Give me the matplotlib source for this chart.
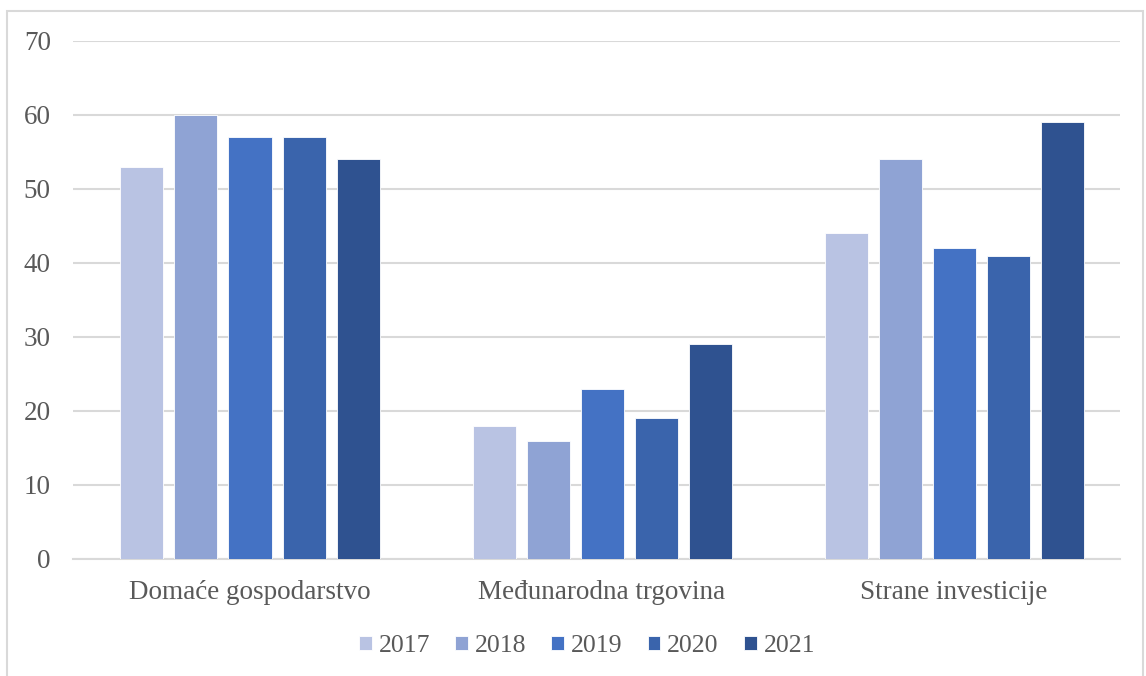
import matplotlib
matplotlib.use("Agg")
import matplotlib.pyplot as plt
import numpy as np
from matplotlib.patches import Rectangle

categories = ["Domaće gospodarstvo", "Međunarodna trgovina", "Strane investicije"]
years = ["2017", "2018", "2019", "2020", "2021"]
values = {
    "2017": [53, 18, 44],
    "2018": [60, 16, 54],
    "2019": [57, 23, 42],
    "2020": [57, 19, 41],
    "2021": [54, 29, 59],
}
colors = ["#B9C3E3", "#8FA3D4", "#4472C4", "#3A64AC", "#2F5290"]
yticks = [0, 10, 20, 30, 40, 50, 60, 70]

plt.rcParams['font.family'] = ['Liberation Serif', 'DejaVu Serif']
W, H = 1146, 676
fig = plt.figure(figsize=(W/100, H/100), dpi=100)
ax = fig.add_axes([73/W, 1-559/H, (1120-73)/W, (559-41)/H])

x = np.arange(len(categories))
step = 54/352
width = 43/352
for i, y in enumerate(years):
    ax.bar(x + (i-2)*step, values[y], width, color=colors[i], label=y,
           edgecolor='white', linewidth=0.6, zorder=3)

ax.set_xlim(-(250-73)/352, -(250-73)/352 + 1047/352)
ax.set_ylim(0, 70)
ax.set_yticks(yticks)
ax.set_xticks(x)
ax.set_xticklabels(categories)
ax.grid(axis='y', color='#D9D9D9', linewidth=1.5, zorder=0)
for s in ['top', 'right', 'left']:
    ax.spines[s].set_visible(False)
ax.spines['bottom'].set_color('#D9D9D9')
ax.spines['bottom'].set_linewidth(1.5)
ax.tick_params(axis='both', length=0, labelsize=19.5, colors='#595959')
ax.tick_params(axis='y', pad=16)
ax.tick_params(axis='x', pad=15)

leg = fig.legend(loc='center', bbox_to_anchor=(587/W, 1-646/H), ncol=5, frameon=False,
                 fontsize=18.5, handlelength=0.5, handleheight=0.5, handletextpad=0.27,
                 columnspacing=0.97)
for t in leg.get_texts():
    t.set_color('#595959')

fig.patches.append(Rectangle((7/W, -0.1), (1143-7)/W, 1.1 - 11/H + 0.0,
                             transform=fig.transFigure, fill=False,
                             edgecolor='#D9D9D9', linewidth=1.5))
fig.savefig("out.png", dpi=100, facecolor='white')
